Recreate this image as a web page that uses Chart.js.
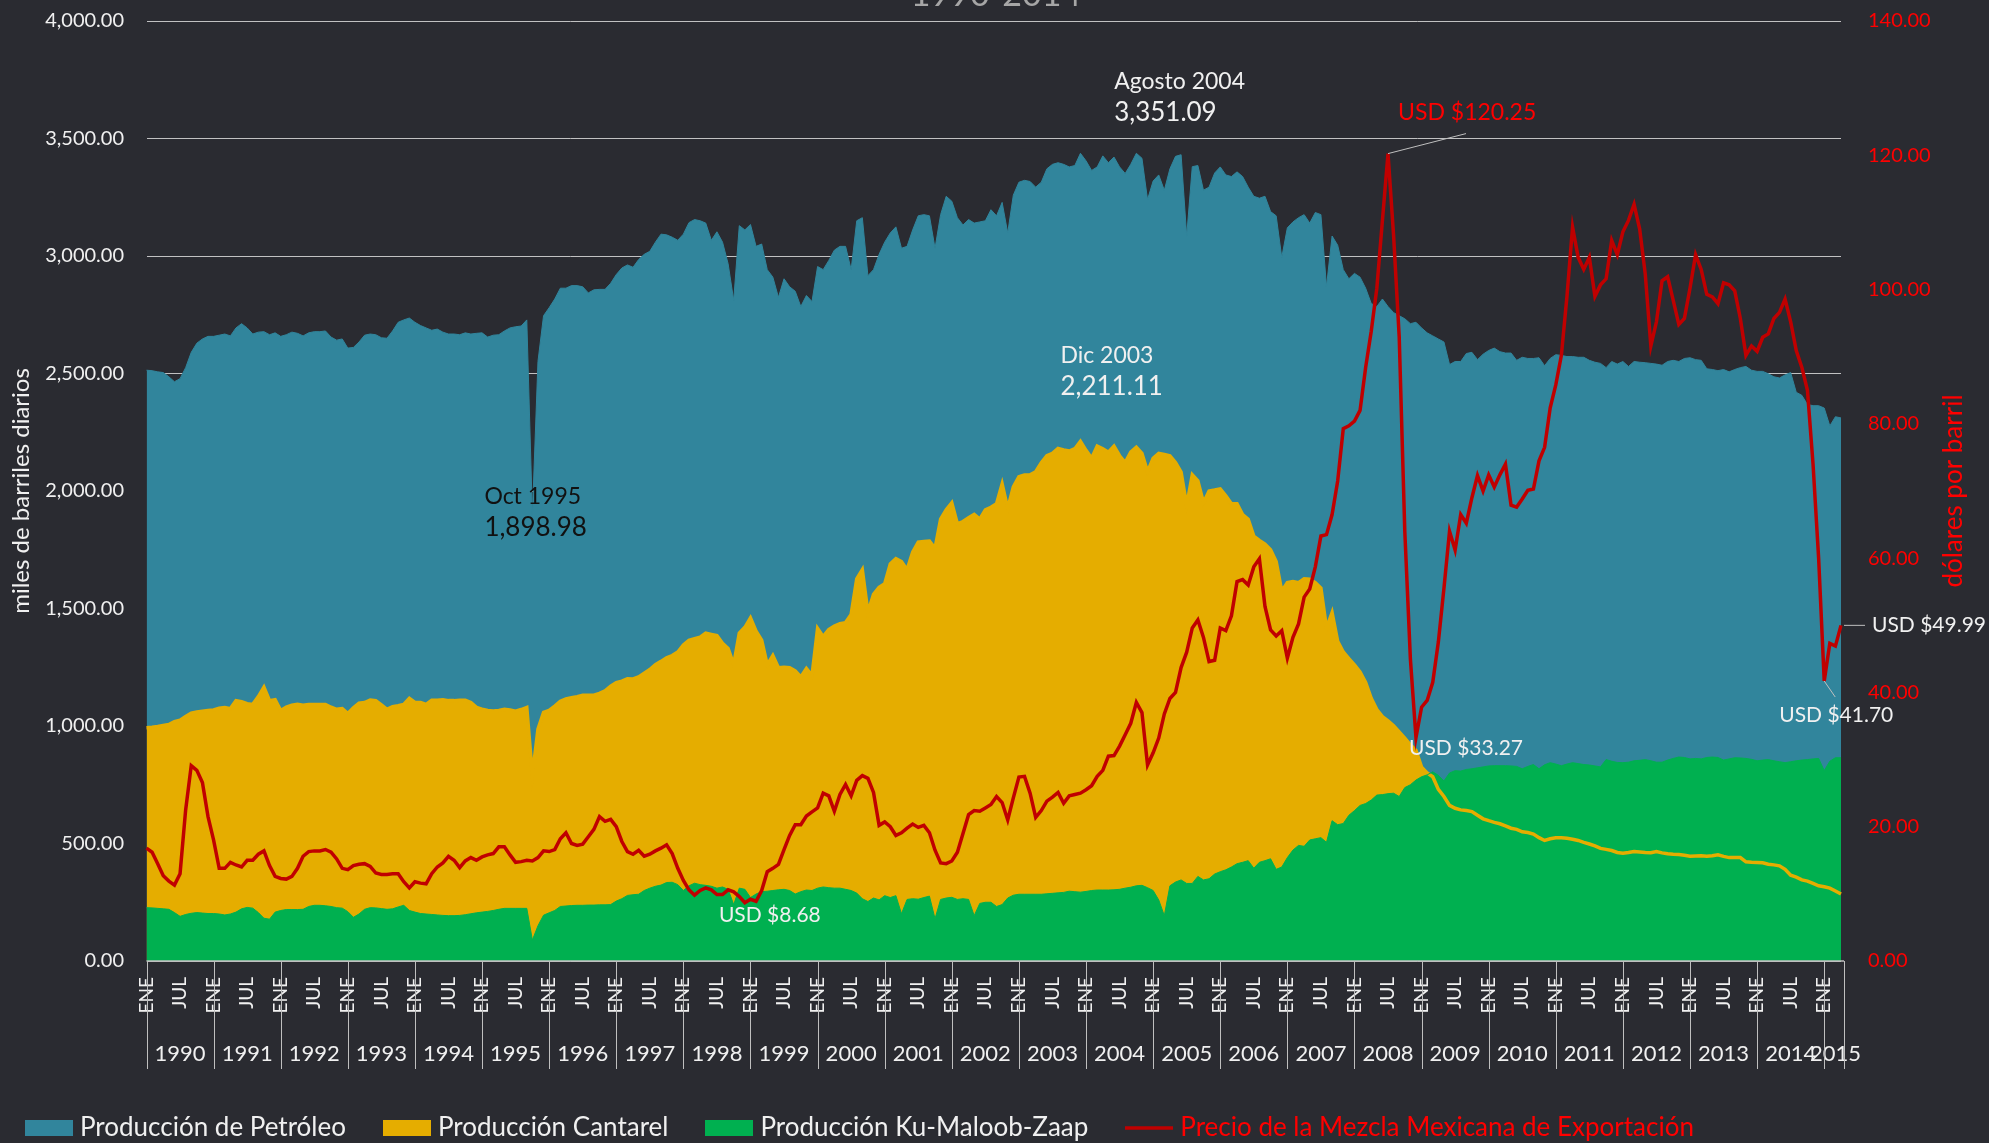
<!DOCTYPE html>
<html><head><meta charset="utf-8">
<script src="https://cdn.jsdelivr.net/npm/chart.js@4.4.1/dist/chart.umd.min.js"></script>
<style>html,body{margin:0;padding:0;background:#2a2b31;overflow:hidden}canvas{display:block}</style>
</head><body>
<canvas id="c" width="1989" height="1143"></canvas>
<script>
// ---------- DATA ----------
const MONTHS = ['ENE','FEB','MAR','ABR','MAY','JUN','JUL','AGO','SEP','OCT','NOV','DIC'];
const YEARS = [1990,1991,1992,1993,1994,1995,1996,1997,1998,1999,2000,2001,2002,2003,2004,2005,2006,2007,2008,2009,2010,2011,2012,2013,2014,2015];
const MONTHS_IN_LAST_YEAR = 4;

// Producción de Petróleo (miles de barriles diarios)
const TOTAL = [
2514,2512,2507,2504,2486,2465,2478,2525,2590,2629,
2647,2658,2658,2663,2668,2660,2694,2712,2694,2668,
2676,2678,2665,2673,2658,2665,2676,2671,2660,2673,
2678,2678,2681,2655,2642,2647,2608,2611,2634,2663,
2668,2665,2652,2650,2681,2718,2728,2736,2718,2704,
2694,2684,2689,2676,2668,2668,2665,2673,2668,2671,
2673,2655,2663,2665,2681,2694,2699,2702,2728,1898.98,
2551,2746,2780,2817,2863,2863,2874,2874,2869,2843,
2856,2858,2858,2884,2921,2949,2962,2952,2985,3007,
3020,3059,3093,3090,3080,3067,3093,3142,3155,3150,
3140,3067,3103,3059,2967,2811,3129,3111,3134,3041,
3051,2942,2910,2824,2903,2869,2850,2785,2832,2806,
2955,2942,2981,3025,3041,3041,2942,3150,3163,2916,
2942,3007,3059,3098,3124,3033,3041,3111,3171,3176,
3171,3033,3176,3254,3233,3163,3132,3155,3140,3145,
3150,3197,3171,3228,3098,3259,3314,3322,3317,3293,
3314,3371,3390,3397,3390,3379,3385,3437,3405,3364,
3379,3426,3397,3421,3379,3351.09,3390,3437,3416,3240,
3319,3345,3280,3371,3424,3431,3085,3380,3385,3280,
3293,3353,3379,3345,3338,3358,3338,3293,3254,3246,
3254,3189,3171,2994,3120,3145,3163,3176,3140,3185,
3176,2870,3085,3046,2942,2903,2926,2910,2863,2798,
2785,2817,2785,2759,2746,2733,2712,2718,2694,2673,
2660,2647,2634,2538,2551,2551,2585,2590,2559,2582,
2598,2608,2593,2587,2587,2556,2569,2564,2564,2567,
2533,2564,2580,2577,2572,2572,2569,2569,2556,2548,
2543,2525,2551,2540,2551,2530,2551,2548,2546,2543,
2540,2535,2551,2556,2551,2564,2567,2559,2556,2520,
2517,2512,2517,2507,2517,2525,2530,2514,2509,2509,
2499,2486,2481,2494,2504,2420,2407,2368,2363,2363,
2353,2277,2316,2311];

// Producción Cantarel
const CANTAREL = [
993,995,998,1002,1006,1019,1025,1040,1055,1060,
1063,1066,1068,1076,1079,1074,1108,1103,1095,1092,
1125,1165,1108,1112,1066,1080,1088,1092,1088,1092,
1092,1092,1092,1080,1071,1074,1053,1078,1097,1100,
1110,1108,1090,1071,1082,1086,1092,1118,1100,1100,
1092,1110,1110,1112,1108,1108,1110,1110,1100,1079,
1072,1066,1064,1066,1071,1068,1063,1070,1079,790,
987,1058,1066,1085,1105,1115,1120,1125,1131,1131,
1131,1139,1150,1170,1185,1191,1201,1200,1209,1225,
1240,1261,1275,1290,1300,1315,1345,1365,1372,1378,
1395,1390,1385,1352,1330,1261,1395,1420,1460,1404,
1365,1260,1300,1248,1250,1248,1235,1209,1245,1215,
1415,1380,1410,1425,1435,1440,1475,1626,1665,1483,
1560,1590,1605,1690,1712,1700,1665,1740,1782,1785,
1787,1756,1880,1920,1950,1860,1870,1886,1900,1880,
1920,1931,1946,2030,1925,2017,2061,2068,2069,2082,
2120,2150,2160,2181,2175,2170,2180,2211.11,2173,2139,
2191,2180,2165,2191,2150,2121,2165,2186,2160,2082,
2139,2160,2155,2150,2121,2080,1938,2069,2043,1950,
2000,2004,2009,1980,1946,1946,1900,1880,1808,1790,
1774,1750,1700,1574,1610,1615,1610,1626,1625,1610,
1587,1417,1483,1360,1315,1287,1260,1230,1185,1118,
1070,1040,1022,1001,975,948,920,896,825,800,
784,730,700,662,650,643,640,636,620,605,
597,590,584,575,565,560,550,547,540,525,
513,520,524,524,522,518,513,505,498,490,
479,475,470,462,459,462,466,464,462,461,
466,460,456,454,453,450,446,447,448,446,
448,452,445,440,440,440,422,420,419,418,
412,409,405,390,365,357,345,340,330,320,
316,310,298,285];

// Producción Ku-Maloob-Zaap
const KMZ = [
227,226,224,222,220,206,190,198,203,206,
204,202,202,200,196,200,208,222,228,225,
206,182,178,208,215,219,219,219,220,232,
237,237,235,232,227,225,210,186,200,220,
227,226,223,220,222,230,237,215,208,202,
200,198,196,194,193,193,194,197,201,205,
208,211,215,220,224,224,224,224,224,89,
150,195,205,215,232,234,236,237,237,238,
238,239,239,240,255,265,279,282,284,300,
310,318,323,334,335,325,300,320,331,325,
322,318,310,315,305,240,310,305,270,285,
295,297,300,303,305,300,285,295,302,300,
310,315,312,310,310,305,300,289,265,253,
268,260,278,270,278,201,262,265,263,270,
276,180,262,268,271,262,265,262,193,245,
250,250,232,240,268,280,284,284,284,284,
284,286,288,290,292,297,295,293,296,300,
302,302,302,303,305,310,314,320,322,312,
300,260,193,320,336,345,330,330,360,345,
350,370,380,388,400,414,420,427,395,420,
427,435,390,400,440,472,492,488,515,520,
525,505,597,580,585,620,640,662,670,685,
706,708,712,714,700,738,750,770,784,792,
805,790,766,800,810,808,815,818,822,826,
830,831,831,831,830,828,818,828,836,818,
835,844,838,831,838,844,840,836,834,830,
826,857,850,845,844,846,852,854,857,852,
846,846,855,862,868,866,860,862,860,866,
868,866,855,860,865,864,862,858,852,855,
857,852,848,844,848,852,855,857,860,862,
810,850,865,865];

// Precio de la Mezcla Mexicana de Exportación (USD por barril)
const PRICE = [
16.8,16.2,14.5,12.7,11.9,11.3,13.0,22.5,29.1,28.4,
26.6,21.5,18.0,13.8,13.8,14.7,14.3,14.0,15.0,15.0,
15.9,16.4,14.2,12.6,12.3,12.2,12.6,13.8,15.6,16.3,
16.4,16.4,16.6,16.2,15.2,13.8,13.6,14.2,14.4,14.5,
14.1,13.1,12.9,12.9,13.0,13.0,11.8,10.9,11.8,11.6,
11.5,13.0,14.0,14.6,15.6,15.0,13.9,14.9,15.4,15.0,
15.5,15.8,16.0,17.0,17.0,15.8,14.7,14.8,15.0,14.9,
15.4,16.4,16.3,16.6,18.2,19.1,17.5,17.2,17.4,18.5,
19.6,21.5,20.8,21.1,20.0,17.8,16.3,15.9,16.5,15.6,
15.9,16.4,16.8,17.3,16.0,13.8,12.0,10.6,9.8,10.5,
10.9,10.6,9.9,9.9,10.6,10.3,9.6,8.68,9.2,8.9,
10.5,13.3,13.8,14.4,16.6,18.7,20.3,20.3,21.6,22.2,
22.8,25.0,24.6,22.3,24.8,26.3,24.6,26.9,27.6,27.2,
25.1,20.2,20.7,20.0,18.7,19.1,19.8,20.4,19.9,20.2,
19.1,16.5,14.6,14.5,14.9,16.2,19.0,21.8,22.4,22.3,
22.8,23.3,24.5,23.6,21.0,24.3,27.4,27.5,25.0,21.4,
22.4,23.8,24.4,25.1,23.5,24.6,24.8,25.0,25.5,26.1,
27.5,28.4,30.5,30.6,32.0,33.7,35.4,38.5,37.0,29.2,
31.0,33.2,36.8,39.1,40.0,43.7,46.0,49.6,50.8,48.2,
44.6,44.8,49.6,49.2,51.4,56.5,56.8,56.0,58.7,59.9,
52.8,49.3,48.4,49.2,45.1,48.2,50.2,54.2,55.4,58.7,
63.3,63.5,66.5,71.5,79.3,79.7,80.4,82.0,88.4,93.8,
100.2,110.3,120.25,108.0,93.0,64.0,45.0,33.27,37.8,38.8,
41.5,47.5,55.5,64.0,61.2,66.5,65.2,69.0,72.3,70.0,
72.4,70.6,72.4,74.0,67.9,67.6,68.8,70.1,70.3,74.5,
76.5,82.4,85.8,90.2,99.0,109.3,104.8,103.0,104.8,99.0,
100.7,101.6,107.3,105.2,108.6,110.3,112.7,109.0,102.3,91.6,
95.2,101.3,101.9,98.4,94.8,95.7,100.2,105.2,103.0,99.3,
98.9,97.9,101.0,100.7,99.8,95.7,90.2,91.6,90.8,92.9,
93.4,95.7,96.6,98.6,95.2,90.9,88.4,85.0,74.0,60.0,
41.70,47.3,46.9,49.99];

// annotated points: [dataset index, month index, line 1, line 2]
const NOTES = [
  [0, 69, 'Oct 1995', '1,898.98'],
  [0, 175, 'Agosto 2004', '3,351.09'],
  [1, 167, 'Dic 2003', '2,211.11'],
  [3, 107, 'USD $8.68'],
  [3, 222, 'USD $120.25'],
  [3, 227, 'USD $33.27'],
  [3, 300, 'USD $41.70'],
  [3, 303, 'USD $49.99']
];

// ---------- STYLE ----------
const BG = '#2a2b31';
const TXT = '#f0f0f0';
const GRID = 'rgba(220,220,220,0.85)';
const C_BLUE = '#31859c';
const C_YELLOW = '#e5ad00';
const C_GREEN = '#00b050';
const C_RED = '#c00000';
const C_RED_TXT = '#ff0000';
const FONT = 'Lato, "Noto Sans", sans-serif';

const labels = [];
YEARS.forEach((y, k) => {
  const n = k === YEARS.length - 1 ? MONTHS_IN_LAST_YEAR : 12;
  for (let m = 0; m < n; m++) labels.push(MONTHS[m] + ' ' + y);
});
const N = labels.length;
const fmt = v => Number(v).toLocaleString('en-US', {minimumFractionDigits: 2, maximumFractionDigits: 2});
function yearTick(i) {
  const k = Math.floor(i / 12);
  const n = k === YEARS.length - 1 ? MONTHS_IN_LAST_YEAR : 12;
  return (i - 12 * k) === Math.floor(n / 2) ? String(YEARS[k]) : '';
}

// legend swatches (48 x 16)
function swatch(kind, color) {
  const c = document.createElement('canvas');
  c.width = 48; c.height = 16;
  const g = c.getContext('2d');
  if (kind === 'rect') { g.fillStyle = color; g.fillRect(0, 0, 48, 16); }
  else { g.strokeStyle = color; g.lineWidth = 3.5; g.beginPath(); g.moveTo(0, 8); g.lineTo(48, 8); g.stroke(); }
  return c;
}

Chart.defaults.font.family = FONT;

const overlay = {
  id: 'overlay',
  beforeDraw(chart) {
    const {ctx, width, height} = chart;
    ctx.save(); ctx.fillStyle = BG; ctx.fillRect(0, 0, width, height); ctx.restore();
  },
  afterDatasetsDraw(chart) {
    const {ctx, chartArea} = chart;
    const y0 = chart.scales.y.getPixelForValue(0);
    ctx.save();
    ctx.strokeStyle = '#bfbfbf'; ctx.lineWidth = 1.5;
    ctx.beginPath(); ctx.moveTo(chartArea.left, y0); ctx.lineTo(chartArea.right + 3, y0); ctx.stroke();
    ctx.restore();
  },
  afterDraw(chart) {
    const {ctx, chartArea} = chart;
    const xs = chart.scales.x;
    ctx.save();
    // year separators
    ctx.strokeStyle = '#bfbfbf'; ctx.lineWidth = 1;
    const seps = [];
    for (let i = 0; i < N; i += 12) seps.push(xs.getPixelForValue(i));
    seps.push(chartArea.right + 3);
    seps.forEach(px => {
      const x = Math.round(px) + 0.5;
      ctx.beginPath(); ctx.moveTo(x, chartArea.bottom); ctx.lineTo(x, chartArea.bottom + 108); ctx.stroke();
    });
    // clipped title remnant
    ctx.fillStyle = '#a6a6a6'; ctx.font = '34px ' + FONT;
    ctx.textAlign = 'center'; ctx.textBaseline = 'alphabetic';
    ctx.fillText('1990-2014', 996, 6);
    // right axis title
    ctx.save();
    ctx.translate(1954, (chartArea.top + chartArea.bottom) / 2);
    ctx.rotate(-Math.PI / 2);
    ctx.fillStyle = C_RED_TXT; ctx.font = '26px ' + FONT;
    ctx.textAlign = 'center'; ctx.textBaseline = 'middle';
    ctx.fillText('dólares por barril', 0, 0);
    ctx.restore();
    // annotations
    const pt = (d, i) => chart.getDatasetMeta(d).data[i];
    const txt = (s, x, y, size, color) => {
      ctx.font = size + 'px ' + FONT;
      ctx.fillStyle = color; ctx.textAlign = 'left'; ctx.textBaseline = 'middle';
      ctx.fillText(s, x, y);
    };
    const line = (xa, ya, xb, yb, c) => {
      ctx.strokeStyle = c; ctx.lineWidth = 1;
      ctx.beginPath(); ctx.moveTo(xa, ya); ctx.lineTo(xb, yb); ctx.stroke();
    };
    NOTES.forEach(([d, i, a, b]) => {
      const p = pt(d, i);
      if (i === 69) { txt(a, p.x - 48, p.y - 18, 23, '#111111'); txt(b, p.x - 48, p.y + 13, 26, '#111111'); }
      else if (i === 175) { txt(a, p.x - 11, p.y - 92, 23, TXT); txt(b, p.x - 11, p.y - 61, 26, TXT); }
      else if (i === 167) { txt(a, p.x - 20, p.y - 86, 23, TXT); txt(b, p.x - 20, p.y - 55, 26, TXT); }
      else if (i === 107) { txt(a, p.x - 26, p.y + 13, 21, TXT); }
      else if (i === 222) { line(p.x, p.y, p.x + 78, p.y - 20, '#bfbfbf'); txt(a, p.x + 10, p.y - 41, 23, C_RED_TXT); }
      else if (i === 227) { txt(a, p.x - 7, p.y + 11, 21, TXT); }
      else if (i === 300) { line(p.x, p.y, p.x + 11, p.y + 16, '#bfbfbf'); txt(a, p.x - 45, p.y + 34, 21, TXT); }
      else if (i === 303) { line(p.x + 3, p.y, p.x + 24, p.y, '#bfbfbf'); txt(a, p.x + 31, p.y, 21, TXT); }
    });
    ctx.restore();
  }
};

const noVPad = s => { s.paddingTop = 0; s.paddingBottom = 0; };

new Chart(document.getElementById('c'), {
  type: 'line',
  data: {
    labels,
    datasets: [
      { label: 'Producción de Petróleo', data: TOTAL, yAxisID: 'y', order: 4,
        backgroundColor: C_BLUE, borderColor: C_BLUE, borderWidth: 1, fill: 'origin', pointRadius: 0, tension: 0 },
      { label: 'Producción Cantarel', data: CANTAREL, yAxisID: 'y', order: 3,
        backgroundColor: C_YELLOW, borderColor: C_YELLOW, borderWidth: 3.5, fill: 'origin', pointRadius: 0, tension: 0 },
      { label: 'Producción Ku-Maloob-Zaap', data: KMZ, yAxisID: 'y', order: 2,
        backgroundColor: C_GREEN, borderColor: C_GREEN, borderWidth: 1, fill: 'origin', pointRadius: 0, tension: 0 },
      { label: 'Precio de la Mezcla Mexicana de Exportación', data: PRICE, yAxisID: 'y1', order: 1,
        backgroundColor: C_RED, borderColor: C_RED, borderWidth: 3.5, fill: false, pointRadius: 0, tension: 0 }
    ]
  },
  options: {
    responsive: false,
    animation: false,
    events: [],
    layout: { padding: { left: -12, right: 0, top: 21, bottom: -8 } },
    plugins: {
      filler: { drawTime: 'beforeDatasetsDraw' },
      tooltip: { enabled: false },
      title: { display: false },
      legend: {
        position: 'bottom', align: 'start',
        labels: {
          usePointStyle: true, pointStyleWidth: 36, boxHeight: 16, padding: 43,
          color: TXT, font: { size: 26 },
          sort: (a, b) => a.datasetIndex - b.datasetIndex,
          generateLabels(chart) {
            const items = Chart.defaults.plugins.legend.labels.generateLabels(chart);
            items.forEach(it => {
              const ds = chart.data.datasets[it.datasetIndex];
              if (ds.yAxisID === 'y1') {
                it.pointStyle = swatch('line', C_RED); it.fontColor = C_RED_TXT;
              } else {
                it.pointStyle = swatch('rect', ds.backgroundColor); it.fontColor = TXT;
              }
              it.rotation = 0;
            });
            return items;
          }
        }
      }
    },
    scales: {
      x: {
        type: 'category', offset: false, weight: 0,
        grid: { display: false, drawTicks: false }, border: { display: false },
        ticks: { autoSkip: false, minRotation: 90, maxRotation: 90, color: TXT, font: { size: 19 }, padding: 16,
          callback: (v, i) => (i % 6 === 0 ? MONTHS[i % 12] : '') },
        afterFit: s => { s.height = 56; }
      },
      x2: {
        type: 'category', position: 'bottom', offset: false, weight: 1,
        grid: { display: false, drawTicks: false }, border: { display: false },
        ticks: { autoSkip: false, minRotation: 0, maxRotation: 0, color: TXT, font: { size: 22 }, padding: 24,
          callback: (v, i) => yearTick(i) },
        afterFit: s => { s.height = 55; }
      },
      y: {
        position: 'left', min: 0, max: 4000,
        grid: { color: GRID, lineWidth: 1, drawTicks: false }, border: { display: false },
        ticks: { stepSize: 500, color: TXT, font: { size: 20 }, padding: 22.5, callback: v => fmt(v) },
        title: { display: true, text: 'miles de barriles diarios', color: TXT, font: { size: 24 }, padding: { top: 19.1, bottom: 0 } },
        afterFit: s => { s.width = 158.5; noVPad(s); }
      },
      y1: {
        position: 'right', min: 0, max: 140,
        grid: { display: false, drawTicks: false }, border: { display: false },
        ticks: { stepSize: 20, color: C_RED_TXT, font: { size: 20 }, padding: 27, callback: v => fmt(v) },
        afterFit: s => { s.width = 148; noVPad(s); }
      }
    }
  },
  plugins: [overlay]
});
</script>
</body></html>
